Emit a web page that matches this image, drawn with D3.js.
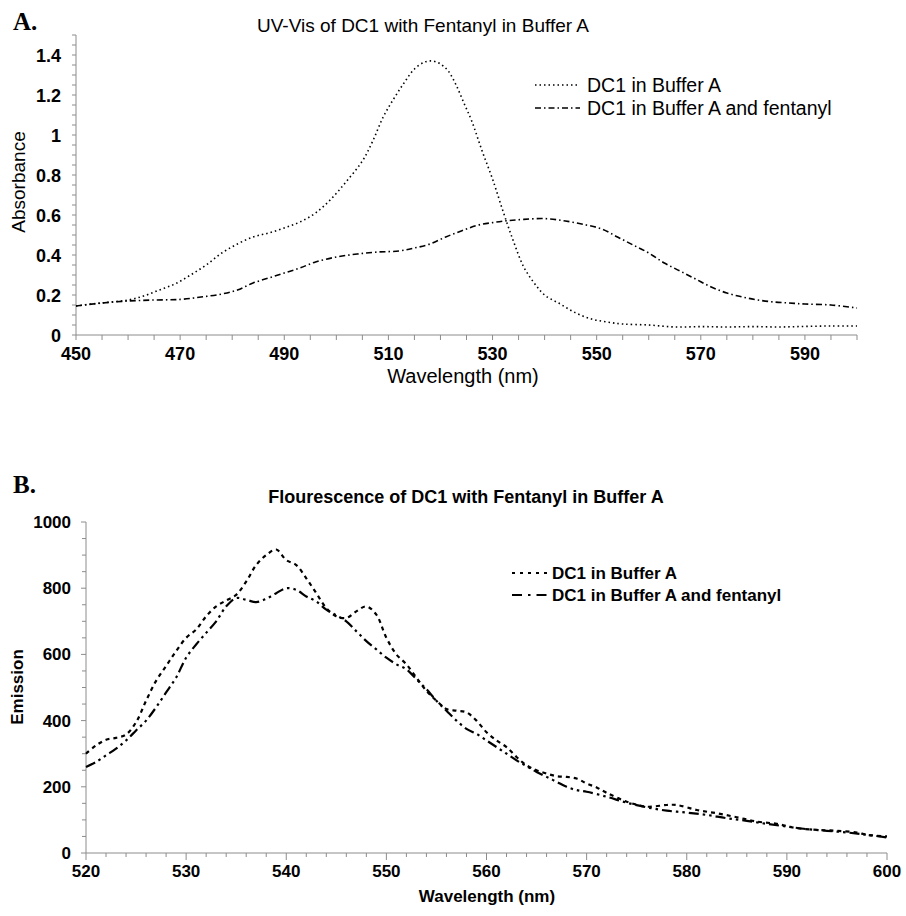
<!DOCTYPE html>
<html><head><meta charset="utf-8">
<script src="https://cdn.jsdelivr.net/npm/d3@7"></script>
<style>
html,body{margin:0;padding:0;background:#fff;}
text{font-family:"Liberation Sans",Arial,sans-serif;fill:#000;}
</style></head>
<body><svg id="c" width="906" height="916"></svg>
<script>
// ---------- Panel A data (UV-Vis) ----------
const uvSeriesNames = ["DC1 in Buffer A", "DC1 in Buffer A and fentanyl"];
const uvBuffer = [[450,0.145],[453,0.155],[456,0.163],[460,0.175],[463,0.195],[466,0.225],[469,0.255],[472,0.3],[475,0.35],[478,0.41],[481,0.455],[484,0.49],[487,0.51],[490,0.535],[493,0.565],[496,0.61],[499,0.68],[502,0.77],[505,0.87],[507,0.97],[509,1.09],[511,1.18],[513,1.26],[515,1.33],[517,1.365],[518.5,1.37],[520,1.355],[521.5,1.32],[523,1.25],[524.5,1.16],[526,1.07],[528,0.92],[530,0.78],[532,0.62],[534,0.47],[536,0.34],[538,0.26],[540,0.2],[543,0.155],[546,0.11],[549,0.08],[552,0.065],[555,0.055],[560,0.05],[565,0.04],[570,0.042],[575,0.04],[580,0.042],[585,0.04],[590,0.043],[595,0.045],[600,0.045]];
const uvFentanyl = [[450,0.145],[455,0.16],[460,0.17],[465,0.175],[470,0.178],[474,0.19],[478,0.205],[481,0.225],[484,0.26],[487,0.285],[490,0.31],[493,0.335],[496,0.365],[500,0.39],[504,0.405],[508,0.415],[512,0.42],[515,0.435],[518,0.455],[521,0.49],[524,0.52],[527,0.548],[530,0.562],[533,0.572],[536,0.578],[540,0.582],[544,0.57],[548,0.55],[551,0.53],[554,0.49],[557,0.45],[560,0.41],[563,0.36],[566,0.32],[569,0.28],[572,0.24],[575,0.21],[578,0.19],[581,0.175],[584,0.165],[587,0.16],[590,0.155],[595,0.15],[600,0.135]];
const uvXTicks = [450,470,490,510,530,550,570,590];
const uvYTicks = [0,0.2,0.4,0.6,0.8,1,1.2,1.4];
const uvYTickLabels = ["0","0.2","0.4","0.6","0.8","1","1.2","1.4"];

// ---------- Panel B data (Fluorescence) ----------
const flSeriesNames = ["DC1 in Buffer A", "DC1 in Buffer A and fentanyl"];
const flBuffer = [[520,300],[521,325],[522,342],[523,348],[524,358],[525,395],[526,460],[527,520],[528,565],[529,610],[530,650],[531,675],[532,715],[533,745],[534,763],[535,780],[536,820],[537,870],[538,900],[539,917],[540,885],[541,870],[542,830],[543,785],[544,740],[545,715],[546,710],[547,730],[548,745],[549,720],[550,650],[551,600],[552,570],[553,530],[554,490],[555,460],[556,435],[557,430],[558,425],[559,400],[560,365],[561,340],[562,320],[563,290],[564,265],[565,250],[566,240],[567,232],[568,230],[569,225],[570,210],[571,198],[572,182],[574,155],[576,140],[578,145],[579,145],[581,130],[583,120],[585,108],[587,95],[589,88],[591,75],[593,70],[595,67],[597,62],[598,55],[600,50]];
const flFentanyl = [[520,260],[521,275],[522,295],[523,315],[524,340],[525,370],[526,400],[527,440],[528,485],[529,530],[530,590],[531,630],[532,665],[533,700],[534,745],[535,770],[536,765],[537,758],[538,768],[539,785],[540,800],[541,795],[542,775],[543,760],[544,735],[545,718],[546,700],[547,670],[548,640],[549,615],[550,590],[551,570],[552,555],[553,525],[554,495],[555,460],[556,430],[557,400],[558,375],[559,360],[560,340],[561,320],[562,300],[563,280],[564,262],[565,245],[566,230],[567,215],[568,200],[569,190],[570,185],[572,170],[574,152],[576,138],[578,128],[580,122],[582,115],[584,105],[586,97],[588,88],[590,80],[592,72],[594,67],[596,62],[598,55],[600,47]];
const flXTicks = [520,530,540,550,560,570,580,590,600];
const flYTicks = [0,200,400,600,800,1000];

const svg = d3.select("#c");
const axisColor = "#8c8c8c";

// ================= Panel A =================
const xA = d3.scaleLinear().domain([450,600]).range([76,857]);
const yA = d3.scaleLinear().domain([0,1.5]).range([335,35]);

svg.append("text").attr("x",13).attr("y",30).style("font-family","'Liberation Serif','Times New Roman',serif")
  .style("font-weight","bold").style("font-size","25px").text("A.");
svg.append("text").attr("x",423).attr("y",32).attr("text-anchor","middle").style("font-size","19px").text("UV-Vis of DC1 with Fentanyl in Buffer A");

// axes
const gA = svg.append("g");
gA.append("line").attr("x1",xA(450)).attr("x2",xA(600)).attr("y1",yA(0)).attr("y2",yA(0)).attr("stroke",axisColor);
gA.append("line").attr("x1",xA(450)).attr("x2",xA(450)).attr("y1",yA(0)).attr("y2",yA(1.5)).attr("stroke",axisColor);
gA.selectAll(".xt").data(d3.range(450,601,5)).enter().append("line")
  .attr("x1",d=>xA(d)).attr("x2",d=>xA(d)).attr("y1",yA(0)).attr("y2",yA(0)+5).attr("stroke",axisColor);
gA.selectAll(".yt").data(d3.range(0,1.5001,0.05)).enter().append("line")
  .attr("x1",xA(450)-4).attr("x2",xA(450)).attr("y1",d=>yA(d)).attr("y2",d=>yA(d)).attr("stroke",axisColor);
gA.selectAll(".xl").data(uvXTicks).enter().append("text")
  .attr("x",d=>xA(d)).attr("y",yA(0)+25).attr("text-anchor","middle")
  .style("font-size","18px").style("font-weight","bold").text(d=>d);
gA.selectAll(".yl").data(uvYTicks).enter().append("text")
  .attr("x",xA(450)-15).attr("y",d=>yA(d)+6.5).attr("text-anchor","end")
  .style("font-size","18px").style("font-weight","bold").text((d,i)=>uvYTickLabels[i]);
svg.append("text").attr("x",463).attr("y",383).attr("text-anchor","middle").style("font-size","20px").text("Wavelength (nm)");
svg.append("text").attr("transform","translate(25,182) rotate(-90)").attr("text-anchor","middle").style("font-size","19px").text("Absorbance");

const lineA = d3.line().x(d=>xA(d[0])).y(d=>yA(d[1])).curve(d3.curveCatmullRom);
const dashA = ["1.5,3","6,3,1.5,3"];
[uvBuffer, uvFentanyl].forEach((s,i)=>{
  svg.append("path").datum(s).attr("d",lineA).attr("fill","none").attr("stroke","#000")
    .attr("stroke-width",1.6).attr("stroke-dasharray",dashA[i]);
});
// legend A
uvSeriesNames.forEach((n,i)=>{
  const y = 85 + i*23;
  svg.append("line").attr("x1",535).attr("x2",580).attr("y1",y).attr("y2",y).attr("stroke","#000")
    .attr("stroke-width",1.6).attr("stroke-dasharray",dashA[i]);
  svg.append("text").attr("x",587).attr("y",y+7).style("font-size","19.5px").text(n);
});

// ================= Panel B =================
const xB = d3.scaleLinear().domain([520,600]).range([86,887]);
const yB = d3.scaleLinear().domain([0,1000]).range([853,522]);

svg.append("text").attr("x",13).attr("y",493).style("font-family","'Liberation Serif','Times New Roman',serif")
  .style("font-weight","bold").style("font-size","25px").text("B.");
svg.append("text").attr("x",466).attr("y",503).attr("text-anchor","middle").style("font-size","18px").style("font-weight","bold")
  .text("Flourescence of DC1 with Fentanyl in Buffer A");

const gB = svg.append("g");
gB.append("line").attr("x1",xB(520)).attr("x2",xB(600)).attr("y1",yB(0)).attr("y2",yB(0)).attr("stroke",axisColor);
gB.append("line").attr("x1",xB(520)).attr("x2",xB(520)).attr("y1",yB(0)).attr("y2",yB(1000)).attr("stroke",axisColor);
gB.selectAll(".xt").data(d3.range(520,601,2)).enter().append("line")
  .attr("x1",d=>xB(d)).attr("x2",d=>xB(d)).attr("y1",yB(0)).attr("y2",d=>yB(0)+(d%10===0?7:4)).attr("stroke",axisColor);
gB.selectAll(".yt").data(d3.range(0,1001,50)).enter().append("line")
  .attr("x1",d=>xB(520)-(d%200===0?5:4)).attr("x2",xB(520)).attr("y1",d=>yB(d)).attr("y2",d=>yB(d)).attr("stroke",axisColor);
gB.selectAll(".xl").data(flXTicks).enter().append("text")
  .attr("x",d=>xB(d)).attr("y",yB(0)+24).attr("text-anchor","middle")
  .style("font-size","17px").style("font-weight","bold").text(d=>d);
gB.selectAll(".yl").data(flYTicks).enter().append("text")
  .attr("x",xB(520)-15).attr("y",d=>yB(d)+6).attr("text-anchor","end")
  .style("font-size","17px").style("font-weight","bold").text(d=>d);
svg.append("text").attr("x",487).attr("y",902).attr("text-anchor","middle").style("font-size","17px").style("font-weight","bold").text("Wavelength (nm)");
svg.append("text").attr("transform","translate(23,687) rotate(-90)").attr("text-anchor","middle").style("font-size","17px").style("font-weight","bold").text("Emission");

const lineB = d3.line().x(d=>xB(d[0])).y(d=>yB(d[1])).curve(d3.curveCatmullRom);
const dashB = ["4,4","10,4,2.5,4,2.5,4"];
[flBuffer, flFentanyl].forEach((s,i)=>{
  svg.append("path").datum(s).attr("d",lineB).attr("fill","none").attr("stroke","#000")
    .attr("stroke-width",2.2).attr("stroke-dasharray",dashB[i]);
});
flSeriesNames.forEach((n,i)=>{
  const y = 573 + i*22;
  svg.append("line").attr("x1",512).attr("x2",548).attr("y1",y).attr("y2",y).attr("stroke","#000")
    .attr("stroke-width",2.2).attr("stroke-dasharray",i===0?"3,5":"10,6,2.5,6");
  svg.append("text").attr("x",552).attr("y",y+6).style("font-size","17px").style("font-weight","bold").text(n);
});
</script></body></html>
